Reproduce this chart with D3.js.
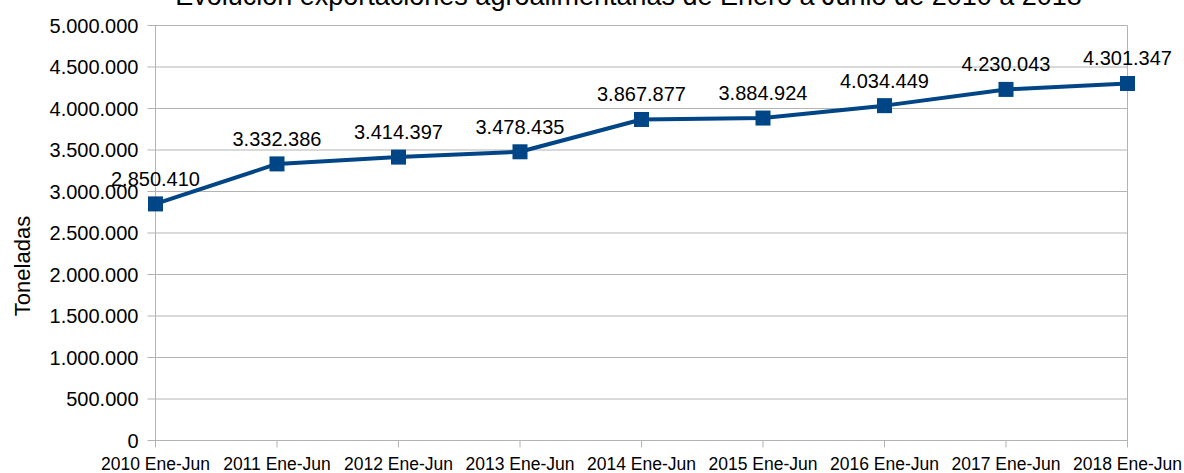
<!DOCTYPE html>
<html><head><meta charset="utf-8">
<script src="https://cdn.jsdelivr.net/npm/d3@7"></script>
<style>body{margin:0;background:#fff}svg{display:block}text{font-family:"Liberation Sans",Arial,sans-serif;fill:#000}</style>
</head><body>
<svg id="c" width="1184" height="473"></svg>
<script>
const categories = ["2010 Ene-Jun","2011 Ene-Jun","2012 Ene-Jun","2013 Ene-Jun","2014 Ene-Jun","2015 Ene-Jun","2016 Ene-Jun","2017 Ene-Jun","2018 Ene-Jun"];
const values = [2850410,3332386,3414397,3478435,3867877,3884924,4034449,4230043,4301347];
const yTicks = [0,500000,1000000,1500000,2000000,2500000,3000000,3500000,4000000,4500000,5000000];
const title = "Evolución exportaciones agroalimentarias de Enero a Junio de 2010 a 2018";
const yTitle = "Toneladas";

const svg = d3.select("#c");
const L = 155.5, R = 1127.5, T = 25.5, B = 440.5;
const fmt = v => d3.format(",")(v).replace(/,/g, ".");
const x = d3.scalePoint().domain(categories).range([L, R]);
const y = d3.scaleLinear().domain([0, 5000000]).range([B, T]);
const grid = "#b3b3b3";

// gridlines
svg.append("g").selectAll("line").data(yTicks).join("line")
  .attr("x1", L - 8).attr("x2", R).attr("y1", d => y(d)).attr("y2", d => y(d))
  .attr("stroke", grid).attr("stroke-width", 1);
// axis lines
svg.append("line").attr("x1", L).attr("x2", L).attr("y1", T).attr("y2", B).attr("stroke", grid);
svg.append("line").attr("x1", R).attr("x2", R).attr("y1", T).attr("y2", B).attr("stroke", grid);
// x ticks
svg.append("g").selectAll("line").data(categories).join("line")
  .attr("x1", d => x(d)).attr("x2", d => x(d)).attr("y1", B).attr("y2", B + 7)
  .attr("stroke", grid);
// y labels
svg.append("g").selectAll("text").data(yTicks).join("text")
  .attr("x", 138.5).attr("y", d => y(d) + 7).attr("text-anchor", "end")
  .style("font-size", "20px").text(d => fmt(d));
// x labels
svg.append("g").selectAll("text").data(categories).join("text")
  .attr("x", d => x(d)).attr("y", 470).attr("text-anchor", "middle")
  .style("font-size", "17.5px").text(d => d);
// title
svg.append("text").attr("x", 628.5).attr("y", 5).attr("text-anchor", "middle")
  .style("font-size", "27px").text(title);
// y title
svg.append("text").attr("transform", "translate(30,266) rotate(-90)").attr("text-anchor", "middle")
  .style("font-size", "22px").text(yTitle);
// line
const data = categories.map((c, i) => ({c, v: values[i]}));
svg.append("path").datum(data)
  .attr("d", d3.line().x(d => x(d.c)).y(d => y(d.v)))
  .attr("fill", "none").attr("stroke", "#004586").attr("stroke-width", 4).attr("stroke-linejoin", "round");
svg.append("g").selectAll("rect").data(data).join("rect")
  .attr("x", d => x(d.c) - 7.5).attr("y", d => y(d.v) - 7.5).attr("width", 15).attr("height", 15)
  .attr("fill", "#004586");
svg.append("g").selectAll("text").data(data).join("text")
  .attr("x", d => x(d.c)).attr("y", d => y(d.v) - 18).attr("text-anchor", "middle")
  .style("font-size", "20px").text(d => fmt(d.v));
</script>
</body></html>
